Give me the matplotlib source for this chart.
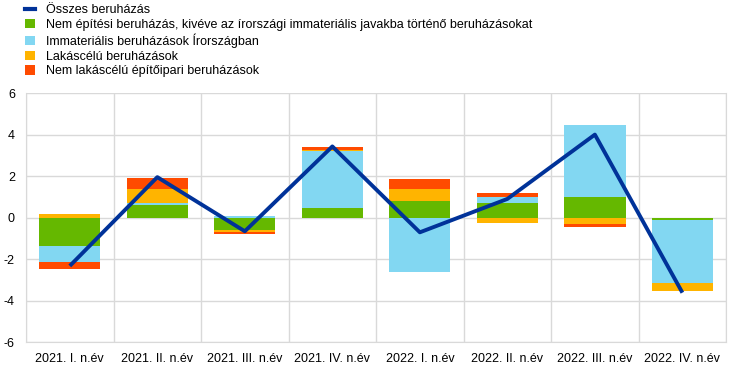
import matplotlib
matplotlib.use("Agg")
import matplotlib.pyplot as plt
import numpy as np
from matplotlib.patches import Patch
from matplotlib.lines import Line2D

plt.rcParams['font.family'] = ['Liberation Sans', 'DejaVu Sans']

categories = ["2021. I. n.év", "2021. II. n.év", "2021. III. n.év", "2021. IV. n.év",
              "2022. I. n.év", "2022. II. n.év", "2022. III. n.év", "2022. IV. n.év"]
total = [-2.33, 1.95, -0.66, 3.43, -0.71, 0.90, 4.00, -3.62]
non_construction = [-1.37, 0.60, -0.58, 0.47, 0.79, 0.69, 0.97, -0.10]
intangible_ie = [-0.79, 0.08, 0.10, 2.74, -2.60, 0.29, 3.47, -3.05]
residential = [0.16, 0.68, -0.11, 0.06, 0.61, -0.26, -0.29, -0.39]
non_residential = [-0.32, 0.55, -0.08, 0.15, 0.47, 0.19, -0.16, 0.0]

series = [
    ("Nem építési beruházás, kivéve az írországi immateriális javakba történő beruházásokat", non_construction, "#65B800"),
    ("Immateriális beruházások Írországban", intangible_ie, "#82D7F2"),
    ("Lakáscélú beruházások", residential, "#FFB400"),
    ("Nem lakáscélú építőipari beruházások", non_residential, "#FF4B00"),
]

fig = plt.figure(figsize=(7.44, 3.71), dpi=100)
ax = fig.add_axes([0.035, 0.078, 0.941, 0.671])

x = np.arange(len(categories))
pos = np.zeros(len(categories))
neg = np.zeros(len(categories))
for label, vals, color in series:
    v = np.array(vals)
    bottoms = np.where(v >= 0, pos, neg)
    ax.bar(x, v, bottom=bottoms, width=0.7, color=color, zorder=2, linewidth=0)
    pos = pos + np.where(v >= 0, v, 0)
    neg = neg + np.where(v < 0, v, 0)

ax.plot(x, total, color="#003299", linewidth=2.8, zorder=3, solid_capstyle='butt')

ax.set_xlim(-0.5, len(categories) - 0.5)
ax.set_ylim(-6, 6)
ax.set_yticks([-6, -4, -2, 0, 2, 4, 6])
ax.set_yticklabels(["-6", "-4", "-2", "0", "2", "4", "6"])
ax.set_xticks(x)
ax.set_xticklabels(categories)
ax.set_xticks(np.arange(-0.5, len(categories)), minor=True)
ax.grid(True, which='major', axis='y', color='#D9D9D9', linewidth=1, zorder=0)
ax.grid(True, which='minor', axis='x', color='#D9D9D9', linewidth=1, zorder=0)
ax.tick_params(axis='both', which='both', length=0, labelsize=9, colors='black')
ax.tick_params(axis='x', pad=8)
ax.tick_params(axis='y', pad=8)
for s in ax.spines.values():
    s.set_color('#D9D9D9')
ax.spines['top'].set_visible(False)

handles = [Line2D([0], [0], color="#003299", linewidth=3)]
labels = ["Összes beruházás"]
for label, vals, color in series:
    handles.append(Patch(facecolor=color, edgecolor='none'))
    labels.append(label)
fig.legend(handles, labels, loc='upper left', bbox_to_anchor=(0.022, 1.012), frameon=False,
           fontsize=9, handlelength=0.8, handleheight=0.8, handletextpad=0.9,
           labelspacing=0.2, borderaxespad=0.3)

fig.savefig("out.png", dpi=100)
